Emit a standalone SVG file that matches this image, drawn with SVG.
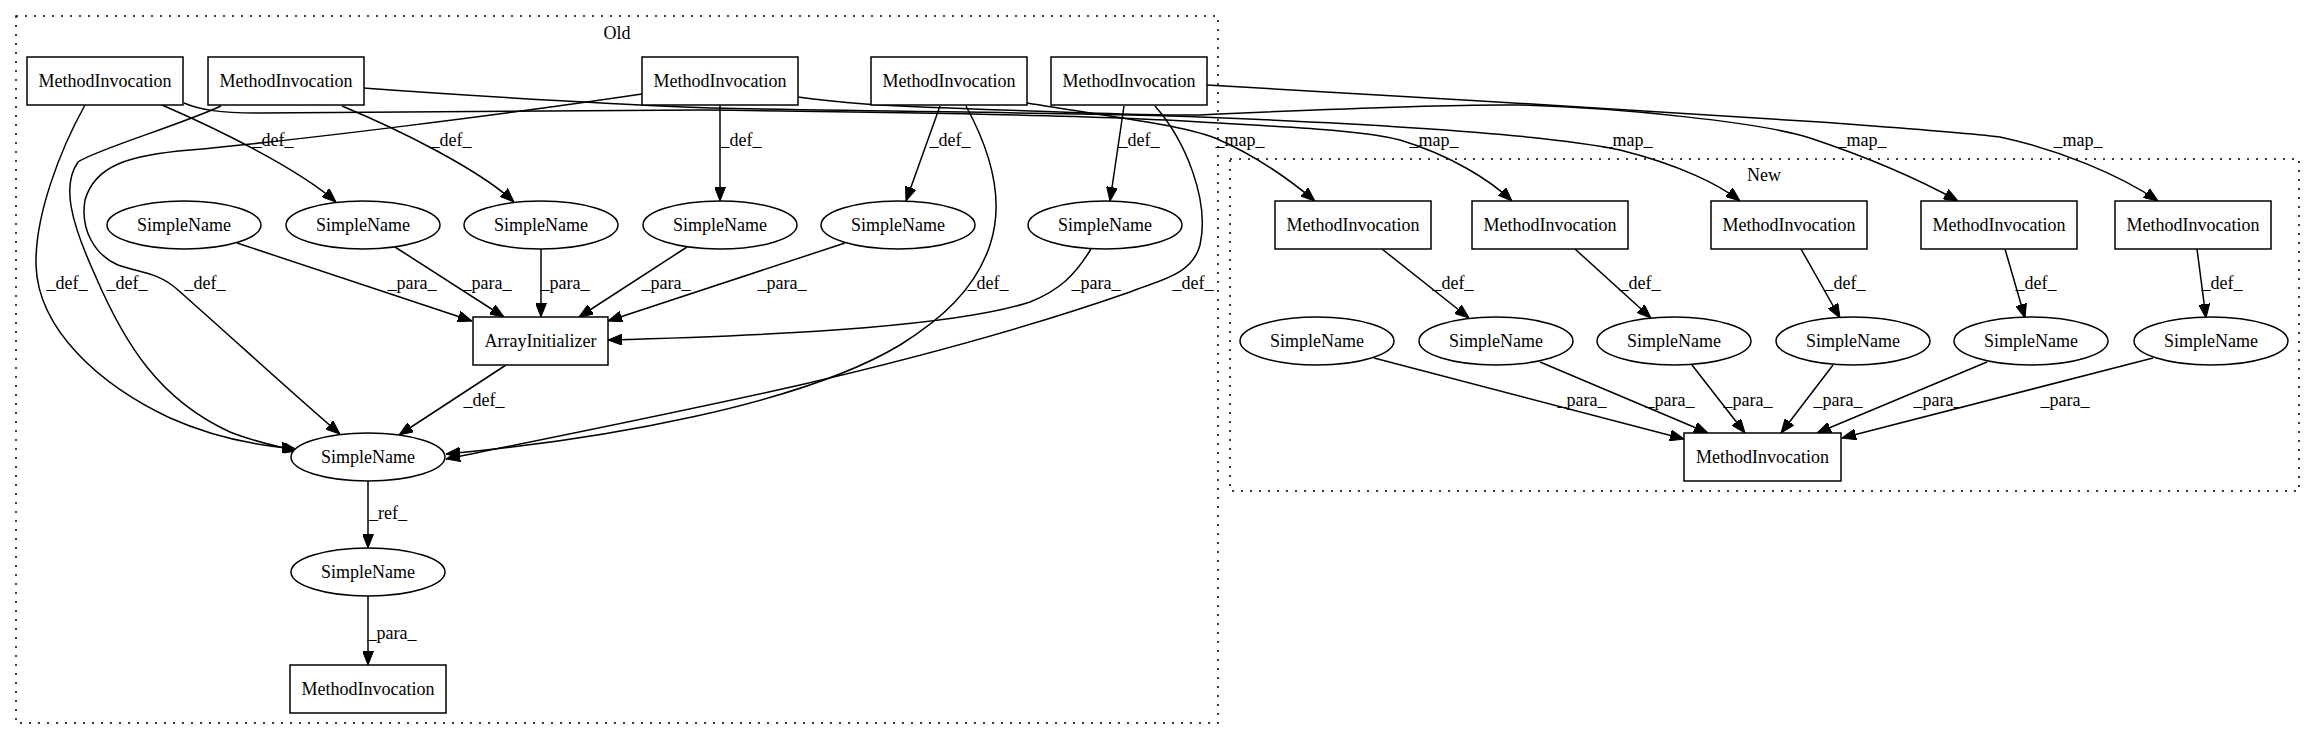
<svg xmlns="http://www.w3.org/2000/svg" width="2315" height="740" viewBox="0 0 2315 740">
<style>
text{font-family:"Liberation Serif","Times New Roman",serif;font-size:18px;fill:#000}
.n text,.lbl{text-anchor:middle}
.box{fill:#fff;stroke:#000;stroke-width:1.5}
.ell{fill:#fff;stroke:#000;stroke-width:1.5}
.cl{fill:none;stroke:#000;stroke-width:1.5;stroke-dasharray:2,7}
.e path{fill:none;stroke:#000;stroke-width:1.5;marker-end:url(#arr)}
</style>
<defs>
<marker id="arr" markerWidth="14" markerHeight="11" refX="14" refY="5.5" orient="auto" markerUnits="userSpaceOnUse"><path d="M0,0 L14,5.5 L0,11 z" fill="#000" stroke="#000" stroke-width="1"/></marker>
</defs>
<rect width="2315" height="740" fill="#fff"/>
<g id="cluster_old"><rect class="cl" x="16" y="16" width="1202" height="707"/><text x="617" y="39" text-anchor="middle">Old</text></g>
<g id="cluster_new"><rect class="cl" x="1230" y="159" width="1069" height="332"/><text x="1764" y="181" text-anchor="middle">New</text></g>

<g id="edges" class="e">
<path d="M162,105 C220,130 300,170 336,202"/>
<path d="M342,106 C400,130 480,170 514,202"/>
<path d="M720,105 L720,201"/>
<path d="M940,106 L906,201"/>
<path d="M1124,106 L1110,201"/>
<path d="M85,105 C60,150 35,215 36,265 C38,330 100,385 170,418 C215,438 260,446 296,449"/>
<path d="M221,106 C180,125 95,150 78,162 C62,185 70,220 95,275 C125,345 160,400 230,432 C255,442 280,447 297,451"/>
<path d="M642,94 C500,115 300,140 190,150 C130,155 95,165 85,200 C80,230 95,255 118,265 C140,273 158,272 178,290 C240,345 300,400 340,434"/>
<path d="M966,106 C990,150 1005,200 990,245 C975,290 940,320 900,345 C800,405 600,440 446,454"/>
<path d="M1155,106 C1185,140 1210,200 1200,245 C1192,275 1160,280 1130,292 C1050,320 950,350 800,385 C680,412 540,440 446,459"/>
<path d="M237,243 L472,321"/>
<path d="M395,247 L504,317"/>
<path d="M541,249 L541,317"/>
<path d="M687,247 L579,317"/>
<path d="M845,243 L608,321"/>
<path d="M1091,249 C1075,275 1060,290 1030,302 C960,325 800,335 608,340"/>
<path d="M506,365 L399,435"/>
<path d="M368,481 L368,548"/>
<path d="M368,596 L368,665"/>
<path d="M1027,103 C1120,118 1180,125 1215,138 C1255,155 1290,180 1315,201"/>
<path d="M184,103 C200,110 220,113 260,113 L700,110 C900,112 1100,115 1200,122 C1300,128 1360,130 1400,140 C1450,155 1490,180 1512,201"/>
<path d="M363,88 C500,98 650,106 711,108 C900,112 1100,113 1200,117 C1400,125 1550,135 1620,150 C1680,165 1720,185 1740,201"/>
<path d="M798,97 C840,103 880,106 950,108 C1050,112 1150,116 1200,115 C1350,108 1450,104 1520,105 C1620,108 1760,122 1810,138 C1870,158 1920,180 1958,201"/>
<path d="M1207,85 C1400,95 1650,112 1820,122 C1900,128 1960,132 2000,137 C2060,150 2120,175 2158,201"/>
<path d="M1382,249 L1469,318"/>
<path d="M1575,249 L1651,318"/>
<path d="M1801,249 L1840,318"/>
<path d="M2005,249 L2025,318"/>
<path d="M2197,249 L2206,318"/>
<path d="M1374,358 L1684,439"/>
<path d="M1540,362 L1708,433"/>
<path d="M1692,365 L1745,433"/>
<path d="M1833,365 L1781,433"/>
<path d="M1987,362 L1817,433"/>
<path d="M2153,358 L1842,438"/>
<g class="lbls">
<text class="lbl" x="273" y="146">_def_</text>
<text class="lbl" x="451" y="146">_def_</text>
<text class="lbl" x="741" y="146">_def_</text>
<text class="lbl" x="950" y="146">_def_</text>
<text class="lbl" x="1139" y="146">_def_</text>
<text class="lbl" x="67" y="289">_def_</text>
<text class="lbl" x="127" y="289">_def_</text>
<text class="lbl" x="205" y="289">_def_</text>
<text class="lbl" x="988" y="289">_def_</text>
<text class="lbl" x="1193" y="289">_def_</text>
<text class="lbl" x="412" y="289">_para_</text>
<text class="lbl" x="487" y="289">_para_</text>
<text class="lbl" x="565" y="289">_para_</text>
<text class="lbl" x="666" y="289">_para_</text>
<text class="lbl" x="782" y="289">_para_</text>
<text class="lbl" x="1096" y="289">_para_</text>
<text class="lbl" x="484" y="406">_def_</text>
<text class="lbl" x="388" y="519">_ref_</text>
<text class="lbl" x="392" y="639">_para_</text>
<text class="lbl" x="1240" y="146">_map_</text>
<text class="lbl" x="1434" y="146">_map_</text>
<text class="lbl" x="1628" y="146">_map_</text>
<text class="lbl" x="1862" y="146">_map_</text>
<text class="lbl" x="2078" y="146">_map_</text>
<text class="lbl" x="1453" y="289">_def_</text>
<text class="lbl" x="1640" y="289">_def_</text>
<text class="lbl" x="1845" y="289">_def_</text>
<text class="lbl" x="2036" y="289">_def_</text>
<text class="lbl" x="2222" y="289">_def_</text>
<text class="lbl" x="1582" y="406">_para_</text>
<text class="lbl" x="1670" y="406">_para_</text>
<text class="lbl" x="1748" y="406">_para_</text>
<text class="lbl" x="1838" y="406">_para_</text>
<text class="lbl" x="1938" y="406">_para_</text>
<text class="lbl" x="2065" y="406">_para_</text>
</g>
</g>

<g id="old_mi1" class="n"><rect class="box" x="27" y="57" width="156" height="48"/><text x="105" y="87">MethodInvocation</text></g>
<g id="old_mi2" class="n"><rect class="box" x="208" y="57" width="156" height="48"/><text x="286" y="87">MethodInvocation</text></g>
<g id="old_mi3" class="n"><rect class="box" x="642" y="57" width="156" height="48"/><text x="720" y="87">MethodInvocation</text></g>
<g id="old_mi4" class="n"><rect class="box" x="871" y="57" width="156" height="48"/><text x="949" y="87">MethodInvocation</text></g>
<g id="old_mi5" class="n"><rect class="box" x="1051" y="57" width="156" height="48"/><text x="1129" y="87">MethodInvocation</text></g>
<g id="old_sn1" class="n"><ellipse class="ell" cx="184" cy="225" rx="77" ry="24"/><text x="184" y="231">SimpleName</text></g>
<g id="old_sn2" class="n"><ellipse class="ell" cx="363" cy="225" rx="77" ry="24"/><text x="363" y="231">SimpleName</text></g>
<g id="old_sn3" class="n"><ellipse class="ell" cx="541" cy="225" rx="77" ry="24"/><text x="541" y="231">SimpleName</text></g>
<g id="old_sn4" class="n"><ellipse class="ell" cx="720" cy="225" rx="77" ry="24"/><text x="720" y="231">SimpleName</text></g>
<g id="old_sn5" class="n"><ellipse class="ell" cx="898" cy="225" rx="77" ry="24"/><text x="898" y="231">SimpleName</text></g>
<g id="old_sn6" class="n"><ellipse class="ell" cx="1105" cy="225" rx="77" ry="24"/><text x="1105" y="231">SimpleName</text></g>
<g id="old_ai" class="n"><rect class="box" x="473" y="317" width="135" height="48"/><text x="540.5" y="347">ArrayInitializer</text></g>
<g id="old_sn7" class="n"><ellipse class="ell" cx="368" cy="457" rx="77" ry="24"/><text x="368" y="463">SimpleName</text></g>
<g id="old_sn8" class="n"><ellipse class="ell" cx="368" cy="572" rx="77" ry="24"/><text x="368" y="578">SimpleName</text></g>
<g id="old_mi6" class="n"><rect class="box" x="290" y="665" width="156" height="48"/><text x="368" y="695">MethodInvocation</text></g>

<g id="new_mi1" class="n"><rect class="box" x="1275" y="201" width="156" height="48"/><text x="1353" y="231">MethodInvocation</text></g>
<g id="new_mi2" class="n"><rect class="box" x="1472" y="201" width="156" height="48"/><text x="1550" y="231">MethodInvocation</text></g>
<g id="new_mi3" class="n"><rect class="box" x="1711" y="201" width="156" height="48"/><text x="1789" y="231">MethodInvocation</text></g>
<g id="new_mi4" class="n"><rect class="box" x="1921" y="201" width="156" height="48"/><text x="1999" y="231">MethodInvocation</text></g>
<g id="new_mi5" class="n"><rect class="box" x="2115" y="201" width="156" height="48"/><text x="2193" y="231">MethodInvocation</text></g>
<g id="new_sn1" class="n"><ellipse class="ell" cx="1317" cy="341" rx="77" ry="24"/><text x="1317" y="347">SimpleName</text></g>
<g id="new_sn2" class="n"><ellipse class="ell" cx="1496" cy="341" rx="77" ry="24"/><text x="1496" y="347">SimpleName</text></g>
<g id="new_sn3" class="n"><ellipse class="ell" cx="1674" cy="341" rx="77" ry="24"/><text x="1674" y="347">SimpleName</text></g>
<g id="new_sn4" class="n"><ellipse class="ell" cx="1853" cy="341" rx="77" ry="24"/><text x="1853" y="347">SimpleName</text></g>
<g id="new_sn5" class="n"><ellipse class="ell" cx="2031" cy="341" rx="77" ry="24"/><text x="2031" y="347">SimpleName</text></g>
<g id="new_sn6" class="n"><ellipse class="ell" cx="2211" cy="341" rx="77" ry="24"/><text x="2211" y="347">SimpleName</text></g>
<g id="new_mi6" class="n"><rect class="box" x="1684" y="433" width="157" height="48"/><text x="1762.5" y="463">MethodInvocation</text></g>
</svg>
